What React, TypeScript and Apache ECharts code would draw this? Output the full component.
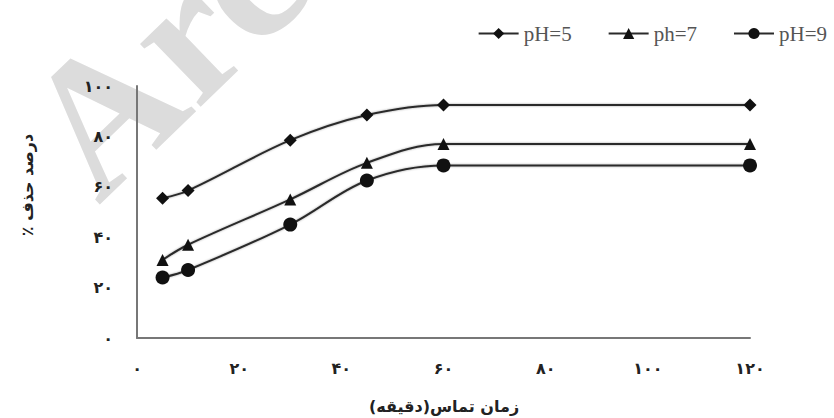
import React, { useEffect, useRef } from "react";
import * as echarts from "echarts";

const contactTimes = [5, 10, 30, 45, 60, 120];
const seriesNames = ["pH=5", "ph=7", "pH=9"];
const ph5Values = [55.5, 58.5, 78.5, 88.5, 92.5, 92.5];
const ph7Values = [31, 37, 55, 69.5, 77, 77];
const ph9Values = [24, 27, 45, 62.5, 68.5, 68.5];
const xTickLabels = ["۰", "۲۰", "۴۰", "۶۰", "۸۰", "۱۰۰", "۱۲۰"];
const yTickLabels = ["۰", "۲۰", "۴۰", "۶۰", "۸۰", "۱۰۰"];
const xTitle = "\u200Fزمان تماس(دقیقه)\u200F";
const yTitle = "\u200Fدرصد حذف ٪\u200F";
const watermark = "Arc";

export default function App() {
  const ref = useRef<HTMLDivElement>(null);
  useEffect(() => {
    if (!ref.current) return;
    const chart = echarts.init(ref.current, null, { renderer: "svg" });
    const mk = (name: string, vals: number[], symbol: string, size: number) => ({
      name,
      type: "line",
      data: contactTimes.map((t, i) => [t, vals[i]]),
      smooth: 0.35,
      symbol,
      symbolSize: size,
      lineStyle: { color: "#2a2a2a", width: 2, shadowBlur: 2, shadowColor: "rgba(0,0,0,0.35)" },
      itemStyle: { color: "#111" },
      z: 3,
    });
    chart.setOption({
      animation: false,
      backgroundColor: "#fff",
      grid: { left: 137, right: 84, top: 86, bottom: 80 },
      legend: {
        right: 2,
        top: 18,
        itemWidth: 40,
        itemHeight: 14,
        itemGap: 36,
        textStyle: { fontFamily: "Liberation Serif", fontSize: 21, color: "#555" },
        data: seriesNames,
      },
      xAxis: {
        type: "value",
        min: 0,
        max: 120,
        interval: 20,
        axisLine: { show: true, lineStyle: { color: "#777", width: 2 } },
        axisTick: { show: false },
        splitLine: { show: false },
        axisLabel: {
          margin: 22,
          fontFamily: "DejaVu Sans",
          fontWeight: "bold",
          fontSize: 16,
          color: "#222",
          formatter: (v: number) => xTickLabels[Math.round(v / 20)] ?? "",
        },
      },
      yAxis: {
        type: "value",
        min: 0,
        max: 100,
        interval: 20,
        axisLine: { show: true, lineStyle: { color: "#777", width: 2 } },
        axisTick: { show: false },
        splitLine: { show: false },
        axisLabel: {
          margin: 24,
          fontFamily: "DejaVu Sans",
          fontWeight: "bold",
          fontSize: 16,
          color: "#222",
          formatter: (v: number) => yTickLabels[Math.round(v / 20)] ?? "",
        },
      },
      graphic: [
        {
          type: "text",
          x: 120,
          y: 228,
          rotation: (44 * Math.PI) / 180,
          z: -10,
          silent: true,
          style: {
            text: watermark,
            fontSize: 190,
            fontFamily: "Liberation Serif",
            fontWeight: "bold",
            fill: "#dcdcdc",
            align: "left",
            verticalAlign: "bottom",
          },
        },
        {
          type: "text",
          x: 27,
          y: 185,
          rotation: Math.PI / 2,
          style: {
            text: yTitle,
            fontSize: 16,
            fontFamily: "DejaVu Sans",
            fontWeight: "bold",
            fill: "#222",
            align: "center",
            verticalAlign: "middle",
          },
        },
        {
          type: "text",
          x: 444,
          y: 406,
          style: {
            text: xTitle,
            fontSize: 16,
            fontFamily: "DejaVu Sans",
            fontWeight: "bold",
            fill: "#222",
            align: "center",
            verticalAlign: "middle",
          },
        },
      ],
      series: [
        mk(seriesNames[0], ph5Values, "diamond", 13),
        mk(seriesNames[1], ph7Values, "triangle", 12),
        mk(seriesNames[2], ph9Values, "circle", 14),
      ],
    });
    return () => chart.dispose();
  }, []);
  return <div ref={ref} style={{ width: 834, height: 418, position: "absolute", left: 0, top: 0 }} />;
}
